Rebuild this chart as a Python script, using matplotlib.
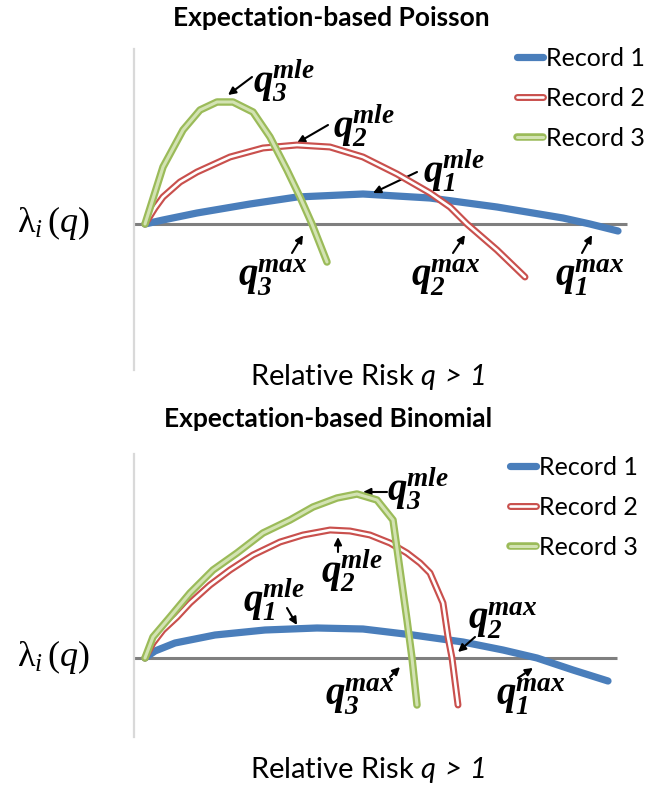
import matplotlib
matplotlib.use("Agg")
import matplotlib.pyplot as plt
import matplotlib.patheffects as pe
import matplotlib.transforms as mtransforms
import numpy as np

plt.rcParams["font.family"] = "Lato"
plt.rcParams["mathtext.fontset"] = "custom"
plt.rcParams["mathtext.rm"] = "Liberation Serif"
plt.rcParams["mathtext.it"] = "Liberation Serif:italic"
plt.rcParams["mathtext.bf"] = "Liberation Serif:italic:bold"
plt.rcParams["mathtext.sf"] = "Lato:italic"

# Expectation-based Poisson: lambda_i(q) against relative risk q
pois_q_r1 = [1.00, 1.18, 1.52, 2.05, 2.52, 3.18, 3.85, 4.52, 5.18, 5.45, 5.73]
pois_l_r1 = [0.0, 0.4, 1.1, 2.0, 2.7, 3.0, 2.6, 1.7, 0.6, 0.0, -0.7]
pois_q_r2 = [1.00, 1.10, 1.18, 1.35, 1.52, 1.85, 2.18, 2.52, 2.85, 3.18, 3.52, 3.85, 4.05,
             4.22, 4.52, 4.80]
pois_l_r2 = [0.0, 1.6, 2.7, 4.2, 5.2, 6.7, 7.6, 7.9, 7.7, 6.7, 5.0, 3.1, 1.7, 0.0, -2.6, -5.3]
pois_q_r3 = [1.00, 1.18, 1.38, 1.55, 1.72, 1.88, 2.08, 2.25, 2.42, 2.55, 2.67, 2.82]
pois_l_r3 = [0.0, 5.7, 9.4, 11.4, 12.2, 12.2, 11.2, 8.7, 5.4, 2.7, 0.0, -3.8]

# Expectation-based Binomial
bin_q_r1 = [1.00, 1.10, 1.30, 1.70, 2.20, 2.72, 3.18, 3.68, 4.18, 4.58, 4.92, 5.28, 5.63]
bin_l_r1 = [0.0, 0.7, 1.5, 2.3, 2.8, 3.0, 2.9, 2.3, 1.6, 0.8, 0.0, -1.2, -2.3]
bin_q_r2 = [1.00, 1.08, 1.18, 1.32, 1.45, 1.65, 1.85, 2.08, 2.35, 2.58, 2.85, 3.05, 3.25,
            3.45, 3.62, 3.75, 3.85, 3.98, 4.03, 4.07, 4.13]
bin_l_r2 = [0.0, 1.5, 2.8, 4.1, 5.5, 7.3, 8.8, 10.3, 11.6, 12.3, 12.8, 12.7, 12.3,
            11.5, 10.5, 9.5, 8.5, 5.5, 2.1, 0.0, -4.7]
bin_q_r3 = [1.00, 1.08, 1.25, 1.45, 1.68, 1.92, 2.18, 2.45, 2.68, 2.92, 3.12, 3.32, 3.48,
            3.55, 3.62, 3.67, 3.72]
bin_l_r3 = [0.0, 2.1, 4.1, 6.5, 8.8, 10.5, 12.5, 13.8, 15.1, 16.0, 16.4, 15.8, 13.8,
            8.8, 3.8, 0.0, -4.7]

records = ["Record 1", "Record 2", "Record 3"]
titles = ["Expectation-based Poisson", "Expectation-based Binomial"]

fig = plt.figure(figsize=(6.51, 7.86), dpi=100)
W, H = 651, 786


def fig_box(x0, y0, x1, y1):
    return [x0 / W, 1 - y1 / H, (x1 - x0) / W, (y1 - y0) / H]


def shift(ax, dx, dy):
    # offset in pixels, y pointing down like the picture
    return ax.transData + mtransforms.ScaledTranslation(dx / fig.dpi, -dy / fig.dpi,
                                                         fig.dpi_scale_trans)


def peak(q, lam):
    i = int(np.argmax(lam))
    return q[i], lam[i]


def crossing(q, lam):
    for i in range(len(lam) - 1):
        if lam[i] > 0 and lam[i + 1] <= 0:
            t = lam[i] / (lam[i] - lam[i + 1])
            return q[i] + t * (q[i + 1] - q[i]), 0.0
    return q[-1], lam[-1]


def draw_line(ax, q, lam, kind, label):
    common = dict(solid_capstyle="round", solid_joinstyle="round", label=label)
    if kind == 0:
        ax.plot(q, lam, color="#4a7ebb", lw=5.2, zorder=3, **common)
    elif kind == 1:
        ax.plot(q, lam, color="white", lw=1.9, zorder=4, **common,
                path_effects=[pe.Stroke(linewidth=5.0, foreground="#c9504d",
                                        capstyle="round", joinstyle="round"),
                              pe.Normal()])
    else:
        ax.plot(q, lam, color="#d3e3b3", lw=2.2, zorder=5, **common,
                path_effects=[pe.Stroke(linewidth=5.4, foreground="#9bbb59",
                                        capstyle="round", joinstyle="round"),
                              pe.Normal()])


def panel(box, curves, ylim, zero_end, notes, leg_xy):
    ax = fig.add_axes(fig_box(*box))
    ax.set_xlim(0.89, 6.0)
    ax.set_ylim(*ylim)
    ax.hlines(0, 0.89, zero_end, color="#7f7f7f", lw=2.2, zorder=2)
    for k, (q, lam) in enumerate(curves):
        draw_line(ax, q, lam, k, records[k])
    for k, what, head, tail, tpos in notes:
        q, lam = curves[k]
        fx, fy = peak(q, lam) if what == "mle" else crossing(q, lam)
        ax.annotate("", xy=(fx, fy), xycoords=shift(ax, *head),
                    xytext=(fx, fy), textcoords=shift(ax, *tail),
                    arrowprops=dict(arrowstyle="-|>", color="black", lw=1.5,
                                    mutation_scale=11, shrinkA=0, shrinkB=0))
        lab = r"$\mathbf{q}^{\mathbf{%s}}_{\mathbf{%d}}$" % (what, k + 1)
        ax.text(fx, fy, lab, transform=shift(ax, *tpos), ha="left", va="center",
                fontsize=28, clip_on=False)
    for s in ["top", "right", "bottom"]:
        ax.spines[s].set_visible(False)
    ax.spines["left"].set_color("#d9d9d9")
    ax.spines["left"].set_linewidth(1.6)
    ax.set_xticks([])
    ax.set_yticks([])
    ax.legend(loc="upper left", bbox_to_anchor=(leg_xy[0] / W, 1 - leg_xy[1] / H),
              bbox_transform=fig.transFigure, frameon=False, fontsize=18,
              handlelength=1.05, handletextpad=0.1, labelspacing=0.68,
              borderpad=0, borderaxespad=0)
    return ax


top_notes = [
    (2, "mle", (11, -7), (35, -25), (36, -21)),
    (1, "mle", (0, -2), (31, -20), (36, -19)),
    (0, "mle", (10, -1), (54, -22), (60, -23)),
    (2, "max", (-9, 11), (-20, 29), (-74, 53)),
    (1, "max", (-2, 11), (-14, 29), (-56, 53)),
    (0, "max", (2, 11), (-8, 29), (-35, 53)),
]
bot_notes = [
    (2, "mle", (6, -2), (30, -2), (30, -5)),
    (1, "mle", (8, 7), (8, 22), (-9, 41)),
    (0, "mle", (-20, -3), (-30, -20), (-74, -28)),
    (1, "max", (6, -6), (23, -21), (16, -38)),
    (2, "max", (-12, 9), (-22, 19), (-87, 38)),
    (0, "max", (-4, 10), (-19, 20), (-41, 38)),
]

panel((134, 49, 645, 370),
      [(pois_q_r1, pois_l_r1), (pois_q_r2, pois_l_r2), (pois_q_r3, pois_l_r3)],
      (-14.6, 17.5), 5.82, top_notes, (517, 47))
panel((134, 454, 645, 737),
      [(bin_q_r1, bin_l_r1), (bin_q_r2, bin_l_r2), (bin_q_r3, bin_l_r3)],
      (-7.9, 20.4), 5.72, bot_notes, (510, 456))

fig.text(331 / W, 1 - 18 / H, titles[0], ha="center", va="center", fontsize=19, fontweight="bold")
fig.text(328 / W, 1 - 419 / H, titles[1], ha="center", va="center", fontsize=19, fontweight="bold")
for y in [377, 770]:
    fig.text(368 / W, 1 - y / H, r"Relative Risk $\mathsf{q\:{>}\:1}$",
             ha="center", va="center", fontsize=21)
for y in [223, 657]:
    fig.text(53 / W, 1 - y / H, r"$\mathrm{\lambda}_i\,(q)$", ha="center", va="center",
             fontsize=26)

fig.savefig("out.png", dpi=100)
